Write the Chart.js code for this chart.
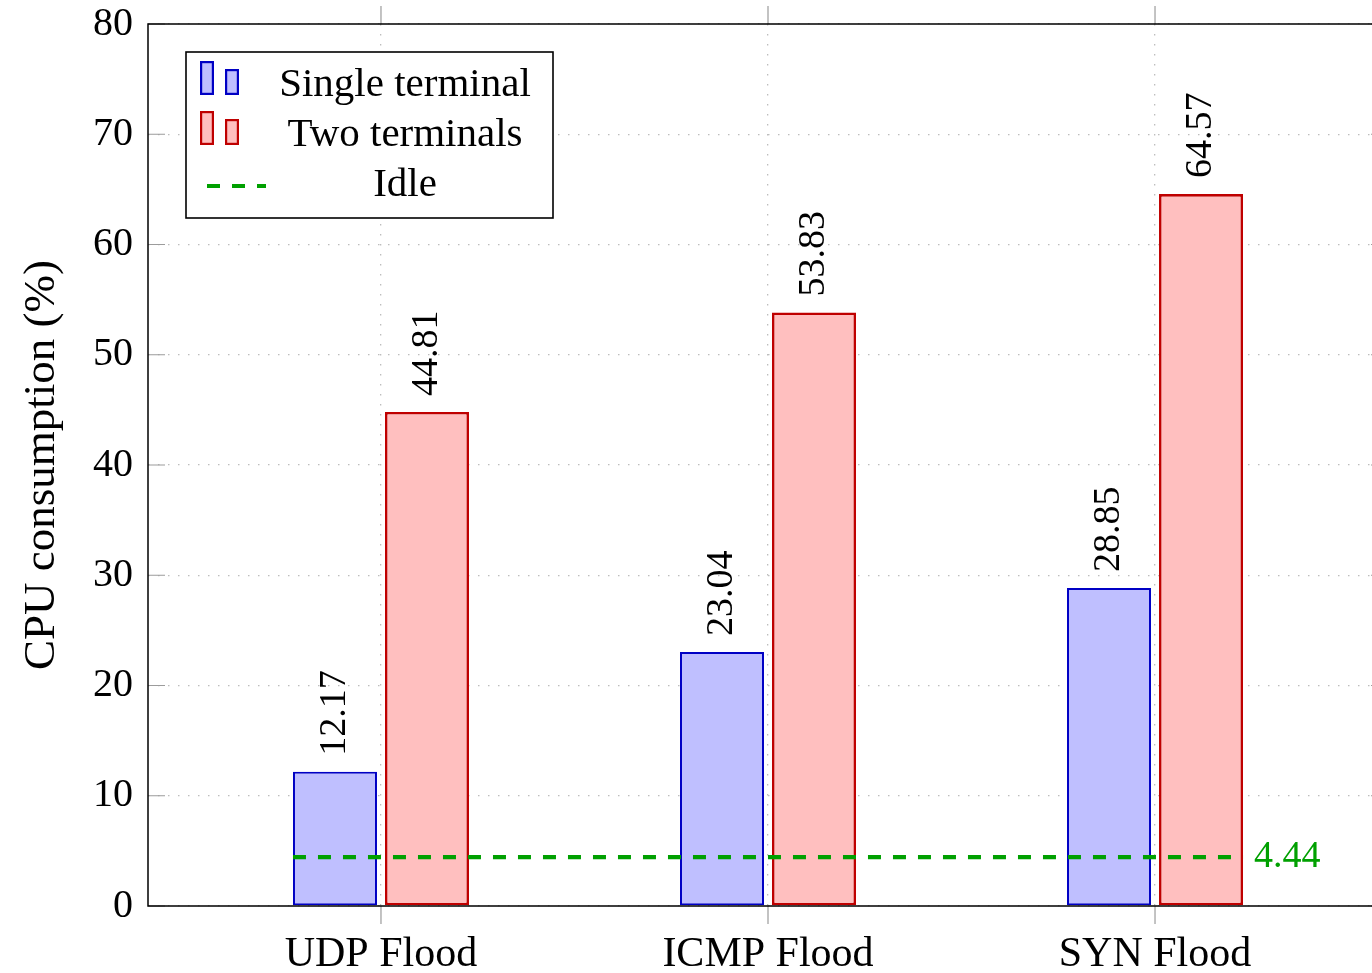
<!DOCTYPE html>
<html>
<head>
<meta charset="utf-8">
<title>CPU consumption under flooding attacks</title>
<script src="https://cdn.jsdelivr.net/npm/chart.js@4.4.1/dist/chart.umd.min.js"></script>
<style>
  html, body { margin: 0; padding: 0; background: #fff; overflow: hidden; width: 1372px; height: 973px; }
  #wrap { position: absolute; left: 0; top: 0; width: 1400px; height: 973px; }
  canvas { display: block; }
</style>
</head>
<body>
<div id="wrap"><canvas id="cpu" width="1400" height="973"></canvas></div>
<script>
// Attack scenarios and measured CPU load (%)
const categories = ['UDP Flood', 'ICMP Flood', 'SYN Flood'];
const singleTerminal = [12.17, 23.04, 28.85];
const twoTerminals = [44.81, 53.83, 64.57];
const idleLevel = 4.44;
const yTickValues = [0, 10, 20, 30, 40, 50, 60, 70, 80];
const seriesNames = ['Single terminal', 'Two terminals', 'Idle'];

const SERIF = "'Liberation Serif', 'Times New Roman', serif";
const BLUE = { fill: '#bfbfff', line: '#0000c4' };
const RED = { fill: '#ffbfbf', line: '#bf0000' };
const GREEN = '#00a000';
const TICK_GRAY = '#9c9c9c';
const GRID_GRAY = '#bdbdbd';

Chart.defaults.font.family = SERIF;
Chart.defaults.color = '#000';

const toPoints = vals => vals.map((v, i) => ({ x: i, y: v }));

// Frame, tick marks, value labels and the idle reference line
const decorations = {
  id: 'decorations',
  afterDatasetsDraw(chart) {
    const { ctx, chartArea: a, scales: { x, y } } = chart;
    ctx.save();

    // outward tick marks on the category axis (bottom and top)
    ctx.strokeStyle = TICK_GRAY;
    ctx.lineWidth = 1.2;
    ctx.beginPath();
    x.ticks.forEach(t => {
      const px = x.getPixelForValue(t.value);
      ctx.moveTo(px, a.bottom); ctx.lineTo(px, a.bottom + 18);
      ctx.moveTo(px, a.top); ctx.lineTo(px, a.top - 18);
    });
    // inward tick marks on the value axis (left and right)
    y.ticks.forEach(t => {
      const py = y.getPixelForValue(t.value);
      ctx.moveTo(a.left, py); ctx.lineTo(a.left + 17, py);
      ctx.moveTo(a.right, py); ctx.lineTo(a.right - 17, py);
    });
    ctx.stroke();

    // full frame around the plot area
    ctx.strokeStyle = '#000';
    ctx.lineWidth = 1.5;
    ctx.strokeRect(a.left, a.top, a.right - a.left, a.bottom - a.top);

    // rotated value labels above each bar
    ctx.fillStyle = '#000';
    ctx.font = '38px ' + SERIF;
    ctx.textAlign = 'left';
    ctx.textBaseline = 'middle';
    chart.data.datasets.forEach((ds, di) => {
      const meta = chart.getDatasetMeta(di);
      meta.data.forEach((bar, i) => {
        ctx.save();
        ctx.translate(bar.x, bar.y - 16);
        ctx.rotate(-Math.PI / 2);
        ctx.fillText(ds.data[i].y.toFixed(2), 0, 0);
        ctx.restore();
      });
    });

    // idle reference line spanning the outer edges of the bar groups
    const firstBar = chart.getDatasetMeta(0).data[0];
    const lastMeta = chart.getDatasetMeta(chart.data.datasets.length - 1);
    const lastBar = lastMeta.data[lastMeta.data.length - 1];
    const x0 = firstBar.x - firstBar.width / 2;
    const x1 = lastBar.x + lastBar.width / 2;
    const iy = y.getPixelForValue(idleLevel);
    ctx.strokeStyle = GREEN;
    ctx.lineWidth = 4.2;
    ctx.setLineDash([13, 12]);
    ctx.beginPath();
    ctx.moveTo(x0, iy); ctx.lineTo(x1, iy);
    ctx.stroke();
    ctx.setLineDash([]);
    ctx.fillStyle = GREEN;
    ctx.font = '38px ' + SERIF;
    ctx.textAlign = 'left';
    ctx.textBaseline = 'middle';
    ctx.fillText(idleLevel.toFixed(2), x1 + 11, iy);

    ctx.restore();
  },
  afterDraw(chart) {
    const { ctx, chartArea: a } = chart;
    ctx.save();
    const bx = a.left + 38, by = a.top + 28, bw = 367, bh = 166;
    ctx.fillStyle = '#fff';
    ctx.fillRect(bx, by, bw, bh);
    ctx.strokeStyle = '#000';
    ctx.lineWidth = 1.6;
    ctx.strokeRect(bx, by, bw, bh);

    const rows = [by + 32, by + 82, by + 132];
    const textX = bx + 219;
    const styles = [BLUE, RED];
    // bar-pair icons
    styles.forEach((s, r) => {
      const base = rows[r] + 11;
      [[bx + 14, 34], [bx + 39, 26]].forEach(([ix, h]) => {
        ctx.fillStyle = s.fill;
        ctx.fillRect(ix, base - h, 14, h);
        ctx.strokeStyle = s.line;
        ctx.lineWidth = 2.2;
        ctx.strokeRect(ix + 1.1, base - h + 1.1, 11.8, h - 2.2);
      });
    });
    // dashed icon for idle
    ctx.strokeStyle = GREEN;
    ctx.lineWidth = 4.2;
    ctx.setLineDash([13, 12]);
    ctx.beginPath();
    ctx.moveTo(bx + 21, rows[2] + 2); ctx.lineTo(bx + 80, rows[2] + 2);
    ctx.stroke();
    ctx.setLineDash([]);

    ctx.fillStyle = '#000';
    ctx.font = '41px ' + SERIF;
    ctx.textAlign = 'center';
    ctx.textBaseline = 'middle';
    seriesNames.forEach((n, r) => ctx.fillText(n, textX, rows[r] + 1));
    ctx.restore();
  }
};

new Chart(document.getElementById('cpu'), {
  type: 'bar',
  data: {
    datasets: [
      {
        label: seriesNames[0],
        data: toPoints(singleTerminal),
        backgroundColor: BLUE.fill,
        borderColor: BLUE.line,
        borderWidth: 2,
        borderSkipped: false
      },
      {
        label: seriesNames[1],
        data: toPoints(twoTerminals),
        backgroundColor: RED.fill,
        borderColor: RED.line,
        borderWidth: 2.6,
        borderSkipped: false
      }
    ]
  },
  options: {
    responsive: false,
    animation: false,
    devicePixelRatio: 1,
    categoryPercentage: 0.4755,
    barPercentage: 0.913,
    layout: { padding: { top: 24, right: 12, bottom: 0, left: 0 } },
    plugins: {
      legend: { display: false },
      tooltip: { enabled: false }
    },
    scales: {
      x: {
        type: 'linear',
        offset: false,
        min: -0.602,
        max: 2.602,
        afterBuildTicks: s => { s.ticks = categories.map((_, i) => ({ value: i })); },
        afterFit: s => { s.height = 67; },
        ticks: {
          callback: v => categories[v],
          font: { size: 42 },
          padding: 24,
          maxRotation: 0,
          autoSkip: false
        },
        grid: {
          offset: false,
          drawTicks: false,
          color: GRID_GRAY,
          lineWidth: 1.3
        },
        border: { display: false, dash: [1.5, 8.5] }
      },
      y: {
        min: 0,
        max: 80,
        afterBuildTicks: s => { s.ticks = yTickValues.map(v => ({ value: v })); },
        afterFit: s => { s.width = 148; },
        ticks: {
          font: { size: 40, lineHeight: 0.4 },
          padding: 15
        },
        grid: {
          drawTicks: false,
          color: GRID_GRAY,
          lineWidth: 1.3
        },
        border: { display: false, dash: [1.5, 8.5] },
        title: {
          display: true,
          text: 'CPU consumption (%)',
          font: { size: 45 },
          padding: { top: 15, bottom: 0 }
        }
      }
    }
  },
  plugins: [decorations]
});
</script>
</body>
</html>
